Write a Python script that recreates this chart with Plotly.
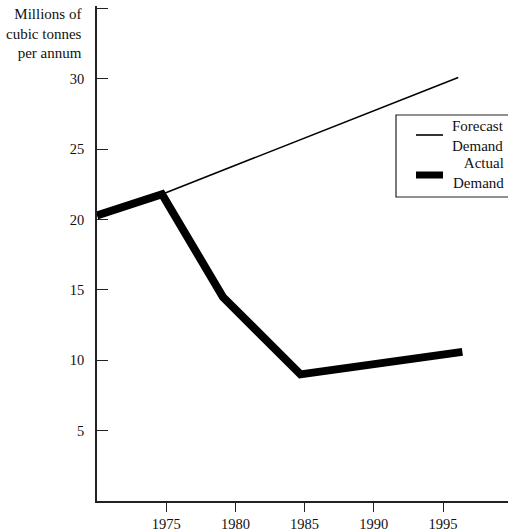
import plotly.graph_objects as go

# Data
forecast_years = [1974.7, 1996.1]
forecast_values = [21.8, 30.1]
actual_years = [1970.0, 1974.7, 1979.1, 1984.7, 1996.4]
actual_values = [20.3, 21.8, 14.5, 9.0, 10.6]
x_ticks = [1975, 1980, 1985, 1990, 1995]
y_ticks = [5, 10, 15, 20, 25, 30, 35]
y_tick_labels = ["5", "10", "15", "20", "25", "30", ""]

W, H = 508, 531
L, T, B = 97, 6, 30
PW, PH = W - L, H - T - B

def px(x):
    return (x - L) / PW

def py(y):
    return (H - B - y) / PH

FONT = "Liberation Serif"

fig = go.Figure()
fig.add_trace(go.Scatter(x=forecast_years, y=forecast_values, mode="lines",
                         line=dict(color="black", width=1.6), name="Forecast Demand",
                         showlegend=False))
fig.add_trace(go.Scatter(x=actual_years, y=actual_values, mode="lines",
                         line=dict(color="black", width=8), name="Actual Demand",
                         showlegend=False))

fig.update_layout(
    width=W, height=H,
    margin=dict(l=L, r=0, t=T, b=B),
    paper_bgcolor="white", plot_bgcolor="white",
    font=dict(family=FONT, size=14.5, color="#111"),
    xaxis=dict(range=[1970, 1970 + PW / 13.84], tickvals=x_ticks,
               ticks="outside", ticklen=9, tickcolor="#222", tickwidth=1.3,
               showline=True, linecolor="#222", linewidth=1.5,
               showgrid=False, zeroline=False, fixedrange=True),
    yaxis=dict(range=[0, PH / 14.07], tickvals=y_ticks, ticktext=y_tick_labels,
               ticks="inside", ticklen=11, tickcolor="#222", tickwidth=1.3,
               showline=True, linecolor="#222", linewidth=1.5,
               showgrid=False, zeroline=False, ticklabelstandoff=8),
    showlegend=False,
)

# Legend box drawn by hand (right-aligned text like the original)
fig.add_shape(type="rect", xref="paper", yref="paper",
              x0=px(396), x1=px(512), y0=py(197), y1=py(115),
              line=dict(color="#222", width=1.2), fillcolor="white", layer="above")
fig.add_shape(type="line", xref="paper", yref="paper",
              x0=px(416), x1=px(443), y0=py(135), y1=py(135),
              line=dict(color="black", width=1.6))
fig.add_shape(type="line", xref="paper", yref="paper",
              x0=px(416), x1=px(443), y0=py(175), y1=py(175),
              line=dict(color="black", width=7))
fig.add_annotation(xref="paper", yref="paper", x=px(506), y=py(136),
                   text="Forecast<br>Demand", showarrow=False, align="right",
                   xanchor="right", yanchor="middle", font=dict(size=15))
fig.add_annotation(xref="paper", yref="paper", x=px(506), y=py(173.5),
                   text="Actual<br>Demand", showarrow=False, align="right",
                   xanchor="right", yanchor="middle", font=dict(size=15))

# Y-axis title
fig.add_annotation(xref="paper", yref="paper", x=px(84), y=py(33),
                   text="Millions of<br>cubic tonnes<br>per annum", showarrow=False,
                   align="right", xanchor="right", yanchor="middle",
                   font=dict(size=15))

fig.write_html("out.html", config={"displayModeBar": False},
               post_script="document.body.style.margin='0';document.body.style.overflow='hidden';")
